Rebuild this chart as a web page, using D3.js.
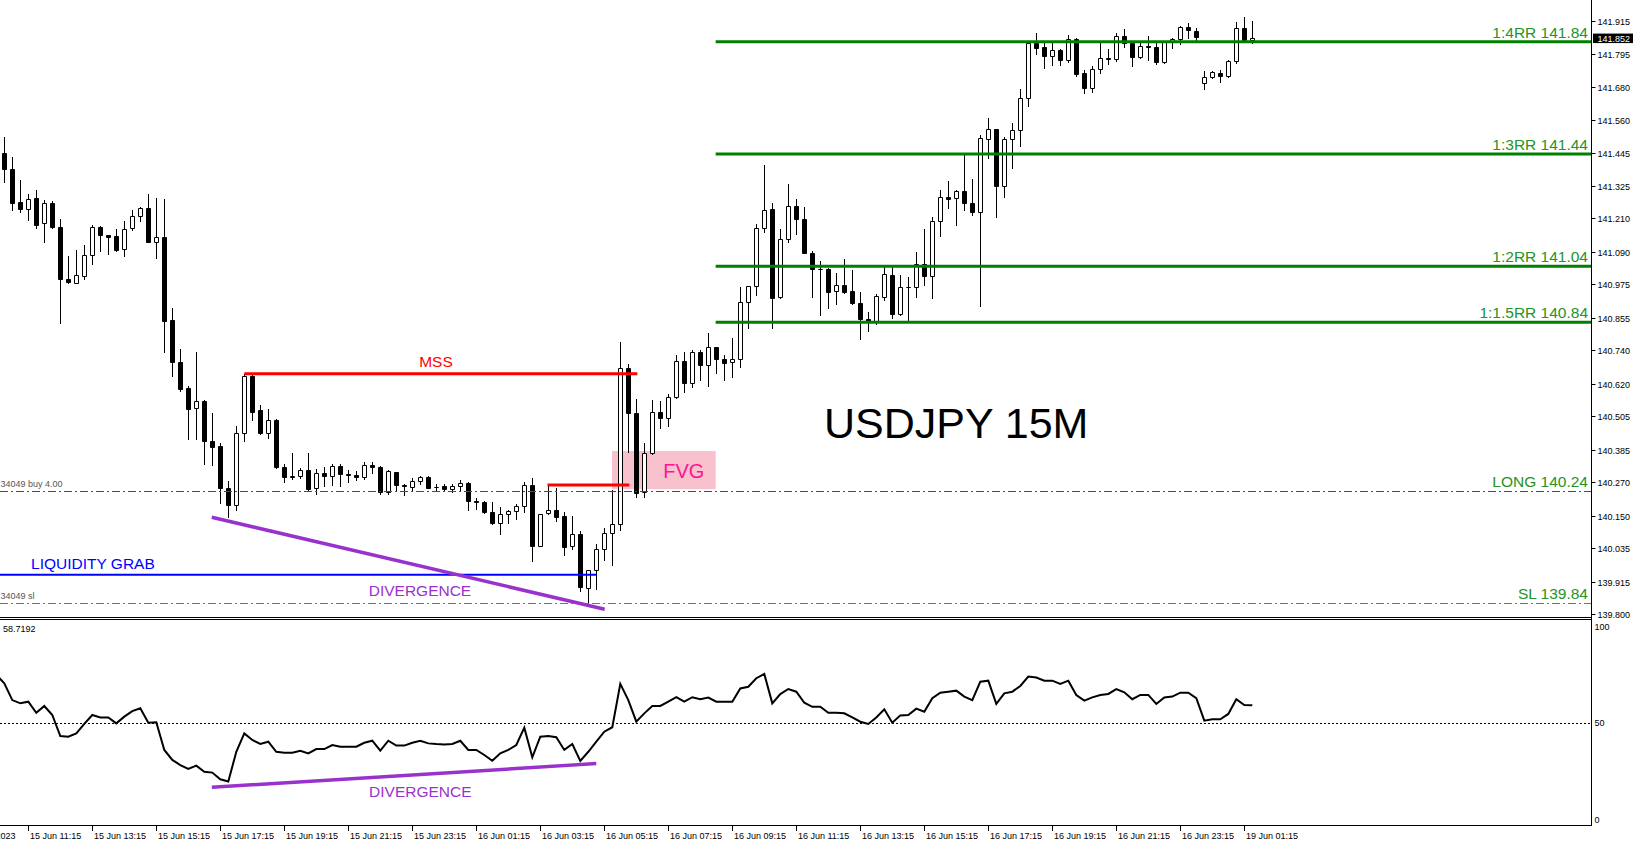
<!DOCTYPE html>
<html><head><meta charset="utf-8">
<script src="https://cdn.jsdelivr.net/npm/d3@7"></script>
<style>
body{margin:0;background:#fff;overflow:hidden}
svg{display:block}
text{font-family:"Liberation Sans",Arial,sans-serif}
</style>
</head><body>
<svg id="c" width="1635" height="845"></svg>
<script>
// ---------------- DATA ----------------
const sessions = [["15 Jun","10:15","23:45"],["16 Jun","00:00","23:45"],["19 Jun","00:00","01:30"]];

const open = [
141.40,141.442,141.386,141.268,141.244,141.282,141.193,141.264,141.181,140.993,
140.981,141.006,141.079,141.181,141.150,141.146,141.100,141.175,141.219,141.246,
141.127,141.143,140.848,140.700,140.606,140.533,140.560,140.416,140.400,140.249,
140.188,140.444,140.649,140.527,140.444,140.492,140.323,140.288,140.293,140.313,
140.248,140.302,140.292,140.329,140.298,140.294,140.290,140.330,140.323,140.236,
140.305,140.260,140.254,140.274,140.290,140.252,140.255,140.246,140.257,140.266,
140.204,140.200,140.164,140.125,140.157,140.168,140.185,140.260,140.044,140.159,
140.171,140.149,140.042,140.085,139.892,139.957,140.032,140.088,140.120,140.676,
140.516,140.234,140.373,140.519,140.500,140.575,140.702,140.622,140.735,140.687,
140.751,140.710,140.697,140.709,140.913,140.969,141.175,141.244,140.930,141.137,
141.255,141.209,141.088,141.031,141.029,140.953,140.972,140.950,140.908,140.851,
140.840,140.930,141.009,140.869,140.967,140.965,141.048,141.006,141.201,141.286,
141.283,141.308,141.266,141.234,141.495,141.529,141.327,141.493,141.526,141.639,
141.837,141.822,141.790,141.811,141.775,141.850,141.727,141.676,141.743,141.781,
141.778,141.861,141.835,141.787,141.825,141.820,141.766,141.838,141.849,141.894,
141.880,141.692,141.713,141.730,141.718,141.772,141.888,141.846];
const high = [
141.47,141.502,141.430,141.347,141.297,141.312,141.276,141.273,141.208,141.076,
141.098,141.116,141.187,141.183,141.151,141.173,141.201,141.240,141.250,141.297,
141.282,141.278,140.892,140.744,140.614,140.733,140.563,140.516,140.409,140.274,
140.470,140.656,140.656,140.545,140.530,140.495,140.335,140.374,140.319,140.374,
140.317,140.325,140.334,140.334,140.313,140.311,140.343,140.343,140.328,140.313,
140.307,140.262,140.284,140.293,140.292,140.262,140.263,140.263,140.278,140.272,
140.212,140.204,140.200,140.183,140.171,140.192,140.270,140.284,140.157,140.260,
140.248,140.165,140.149,140.096,139.957,140.050,140.106,140.242,140.770,140.690,
140.565,140.409,140.563,140.560,140.584,140.723,140.734,140.741,140.740,140.801,
140.752,140.725,140.783,140.965,140.970,141.189,141.401,141.266,141.172,141.333,
141.278,141.250,141.094,141.060,141.035,141.015,141.066,141.026,140.948,140.876,
140.941,141.037,141.038,141.009,141.003,141.092,141.173,141.214,141.312,141.344,
141.312,141.439,141.351,141.508,141.567,141.529,141.502,141.549,141.671,141.840,
141.872,141.838,141.843,141.813,141.864,141.855,141.739,141.754,141.838,141.813,
141.870,141.885,141.840,141.835,141.861,141.835,141.840,141.852,141.896,141.906,
141.888,141.736,141.736,141.739,141.775,141.909,141.927,141.915];
const low = [
141.38,141.341,141.240,141.234,141.205,141.175,141.127,141.175,140.839,140.979,
140.979,140.993,141.048,141.095,141.082,141.095,141.077,141.169,141.202,141.125,
141.070,140.735,140.649,140.596,140.423,140.424,140.334,140.331,140.195,140.145,
140.171,140.418,140.492,140.440,140.426,140.319,140.272,140.282,140.284,140.240,
140.226,140.256,140.260,140.258,140.272,140.279,140.282,140.303,140.228,140.226,
140.237,140.223,140.242,140.264,140.248,140.240,140.239,140.234,140.242,140.171,
140.174,140.161,140.121,140.084,140.123,140.139,140.165,139.990,140.042,140.157,
140.133,140.010,140.031,139.883,139.844,139.888,139.993,139.975,140.100,140.379,
140.216,140.218,140.370,140.462,140.471,140.569,140.590,140.610,140.634,140.613,
140.660,140.634,140.646,140.679,140.819,140.937,141.163,140.819,140.928,141.127,
141.154,141.086,140.931,140.866,140.892,140.905,140.945,140.905,140.780,140.810,
140.834,140.918,140.854,140.866,140.848,140.931,140.973,140.926,141.149,141.246,
141.187,141.240,141.222,140.898,141.427,141.216,141.288,141.391,141.470,141.611,
141.797,141.748,141.757,141.757,141.766,141.718,141.659,141.662,141.730,141.760,
141.773,141.822,141.755,141.783,141.775,141.760,141.764,141.819,141.832,141.852,
141.840,141.672,141.711,141.698,141.713,141.763,141.840,141.835];
const close = [
141.44,141.386,141.266,141.244,141.280,141.187,141.264,141.181,140.993,140.983,
141.008,141.080,141.181,141.150,141.145,141.098,141.172,141.220,141.246,141.127,
141.145,140.846,140.699,140.603,140.530,140.559,140.418,140.397,140.249,140.188,
140.444,140.649,140.521,140.444,140.492,140.323,140.287,140.292,140.313,140.245,
140.302,140.292,140.329,140.298,140.294,140.290,140.330,140.323,140.236,140.309,
140.260,140.255,140.274,140.290,140.250,140.254,140.245,140.257,140.266,140.204,
140.198,140.164,140.123,140.157,140.168,140.185,140.260,140.044,140.157,140.171,
140.147,140.038,140.085,139.895,139.957,140.032,140.088,140.120,140.676,140.516,
140.231,140.373,140.519,140.500,140.575,140.702,140.622,140.735,140.687,140.751,
140.710,140.694,140.709,140.913,140.969,141.175,141.240,140.928,141.137,141.255,
141.209,141.088,141.029,141.029,140.949,140.972,140.949,140.908,140.851,140.840,
140.934,141.012,140.869,140.967,140.965,141.048,141.006,141.201,141.286,141.281,
141.308,141.266,141.234,141.498,141.529,141.326,141.493,141.526,141.639,141.837,
141.819,141.790,141.811,141.775,141.850,141.725,141.676,141.743,141.781,141.778,
141.861,141.835,141.787,141.825,141.820,141.766,141.838,141.849,141.892,141.882,
141.858,141.713,141.732,141.718,141.772,141.888,141.846,141.852];
const rsi = [
73.6,69.5,61.3,59.7,60.5,55.1,58.4,54.0,43.7,43.4,
45.0,49.6,54.0,52.8,52.8,49.9,53.2,55.9,57.3,50.2,
50.4,36.9,32.0,29.5,27.6,29.2,26.2,25.8,22.5,21.4,
36.0,45.0,41.8,39.8,40.9,36.0,35.5,35.5,36.5,35.2,
37.3,37.3,39.3,38.5,38.5,38.5,40.4,41.4,36.5,41.4,
39.0,39.0,40.4,41.4,40.1,39.8,39.6,39.8,41.4,36.9,
36.9,34.4,31.6,35.2,36.9,39.3,47.8,33.3,43.4,43.7,
43.1,36.9,39.8,31.5,36.0,40.9,45.8,48.0,69.2,61.3,
50.7,54.8,58.4,58.4,60.5,62.7,60.5,62.7,61.7,62.5,
60.5,60.5,60.5,67.0,67.8,72.0,74.1,59.7,64.2,66.7,
65.4,60.0,58.0,58.0,55.1,55.1,54.8,52.8,50.7,49.6,
52.8,56.8,50.2,53.8,54.0,57.1,55.6,62.2,64.9,65.4,
65.9,63.0,61.3,70.3,70.8,59.4,64.6,65.4,68.2,72.8,
72.3,70.8,70.8,69.2,70.8,63.8,61.0,62.6,63.8,64.3,
66.7,65.1,61.7,63.8,63.8,59.4,62.6,63.0,64.9,64.9,
62.2,51.2,51.9,51.9,54.5,61.7,58.9,58.72];

const priceTicks = ["141.915","141.795","141.680","141.560","141.445","141.325","141.210","141.090","140.975","140.855","140.740","140.620","140.505","140.385","140.270","140.150","140.035","139.915","139.800"];
const timeTickBars = ["15 Jun 09:15","15 Jun 11:15","15 Jun 13:15","15 Jun 15:15","15 Jun 17:15","15 Jun 19:15","15 Jun 21:15","15 Jun 23:15","16 Jun 01:15","16 Jun 03:15","16 Jun 05:15","16 Jun 07:15","16 Jun 09:15","16 Jun 11:15","16 Jun 13:15","16 Jun 15:15","16 Jun 17:15","16 Jun 19:15","16 Jun 21:15","16 Jun 23:15","19 Jun 01:15"];
const timeTickLabels = ["15 Jun 2023","15 Jun 11:15","15 Jun 13:15","15 Jun 15:15","15 Jun 17:15","15 Jun 19:15","15 Jun 21:15","15 Jun 23:15","16 Jun 01:15","16 Jun 03:15","16 Jun 05:15","16 Jun 07:15","16 Jun 09:15","16 Jun 11:15","16 Jun 13:15","16 Jun 15:15","16 Jun 17:15","16 Jun 19:15","16 Jun 21:15","16 Jun 23:15","19 Jun 01:15"];
const rsiTicks = [100,50,0];
const rsiLevel = 50;
const lastPrice = 141.852;
const rsiLast = "58.7192";

const rrNames = ["1:4RR 141.84","1:3RR 141.44","1:2RR 141.04","1:1.5RR 140.84"];
const rrPrices = [141.84,141.44,141.04,140.84];
const longName = "LONG 140.24", longPrice = 140.24;
const slName = "SL 139.84", slPrice = 139.84;
const mssPrice = 140.656, mss2Price = 140.26, liqPrice = 139.94;
const fvgTop = 140.381, fvgBottom = 140.245;
const divPricePts = [[26.93,140.145],[76.05,139.817]];
const divRsiPts = [[26.94,18.6],[75.0,30.2]];
const tradeTexts = ["34049 buy 4.00","34049 sl"];

// ---------------- BUILD ----------------
const times = [];
sessions.forEach(([d,s,e])=>{
  let [h,m]=s.split(":").map(Number); const [eh,em]=e.split(":").map(Number);
  while(h*60+m <= eh*60+em){
    times.push(d+" "+String(h).padStart(2,"0")+":"+String(m).padStart(2,"0"));
    m+=15; if(m>=60){m-=60;h++;}
  }
});
const bars = times.map((t,i)=>({t,i,o:open[i],h:high[i],l:low[i],c:close[i],r:rsi[i]}));
function barIndex(t){
  const k=times.indexOf(t); if(k>=0) return k;
  const mins=s=>{const [hh,mm]=s.split(" ")[2].split(":").map(Number);return hh*60+mm;};
  return (mins(t)-mins(times[0]))/15;
}

const axisX = 1591.5;
const svg = d3.select("#c");
const x = d3.scaleLinear().domain([0,1]).range([-3.7,4.3]);
const y = d3.scaleLinear().domain([139.8,141.915]).range([614,20.7]);
const yr = d3.scaleLinear().domain([0,100]).range([825.3,621]);

const defs = svg.append("defs");
defs.append("clipPath").attr("id","cm").append("rect").attr("x",0).attr("y",0).attr("width",axisX).attr("height",617);
defs.append("clipPath").attr("id","cr").append("rect").attr("x",0).attr("y",620).attr("width",axisX).attr("height",205);

svg.append("rect").attr("width",1635).attr("height",845).attr("fill","#fff");

const gm = svg.append("g").attr("clip-path","url(#cm)");
// FVG rect (background)
gm.append("rect").attr("x",x(76.96)).attr("y",y(fvgTop)).attr("width",x(89.92)-x(76.96)).attr("height",y(fvgBottom)-y(fvgTop)).attr("fill","#f7c1cd");

// candles
const gc = gm.append("g");
bars.forEach(b=>{
  const cx=Math.round(x(b.i))+0.5;
  gc.append("line").attr("x1",cx).attr("x2",cx).attr("y1",Math.round(y(b.h))).attr("y2",Math.round(y(b.l))+1).attr("stroke","#000").attr("stroke-width",1);
  const yt=Math.round(y(Math.max(b.o,b.c)))+0.5, yb=Math.round(y(Math.min(b.o,b.c)))+0.5;
  gc.append("path").attr("d",`M${cx-2},${yt}H${cx+2}V${yb}H${cx-2}Z`).attr("fill",b.c>=b.o?"#fff":"#000").attr("stroke","#000").attr("stroke-width",1);
});

// trade levels
gm.append("line").attr("x1",0).attr("x2",axisX).attr("y1",Math.round(y(longPrice))+0.5).attr("y2",Math.round(y(longPrice))+0.5).attr("stroke","#008000").attr("stroke-dasharray","8,3,2,3");
gm.append("line").attr("x1",0).attr("x2",axisX).attr("y1",Math.round(y(slPrice))+0.5).attr("y2",Math.round(y(slPrice))+0.5).attr("stroke","#ff4500").attr("stroke-dasharray","8,3,2,3");

// RR lines
rrPrices.forEach((p,i)=>{
  gm.append("line").attr("x1",x(89.92)).attr("x2",axisX).attr("y1",y(p)).attr("y2",y(p)).attr("stroke","#008000").attr("stroke-width",3);
  gm.append("text").attr("x",1588).attr("y",y(p)-4).attr("text-anchor","end").attr("font-size",15.5).attr("fill","#259425").text(rrNames[i]);
});
gm.append("text").attr("x",1588).attr("y",y(longPrice)-4).attr("text-anchor","end").attr("font-size",15.5).attr("fill","#259425").text(longName);
gm.append("text").attr("x",1588).attr("y",y(slPrice)-4).attr("text-anchor","end").attr("font-size",15.5).attr("fill","#259425").text(slName);

// MSS lines
gm.append("line").attr("x1",x(31.0)).attr("x2",x(80.13)).attr("y1",y(mssPrice)).attr("y2",y(mssPrice)).attr("stroke","#ff0000").attr("stroke-width",3);
gm.append("line").attr("x1",x(68.9)).attr("x2",x(79.13)).attr("y1",y(mss2Price)).attr("y2",y(mss2Price)).attr("stroke","#ff0000").attr("stroke-width",3);
gm.append("text").attr("x",x(54.96)).attr("y",y(140.68)).attr("text-anchor","middle").attr("font-size",15.5).attr("fill","#ff0000").text("MSS");

// liquidity
gm.append("line").attr("x1",0).attr("x2",x(75.05)).attr("y1",y(liqPrice)).attr("y2",y(liqPrice)).attr("stroke","#0000ff").attr("stroke-width",2);
gm.append("text").attr("x",x(4.34)).attr("y",y(139.962)).attr("font-size",15.5).attr("fill","#0000ff").text("LIQUIDITY GRAB");

// divergence (price)
gm.append("line").attr("x1",x(divPricePts[0][0])).attr("y1",y(divPricePts[0][1])).attr("x2",x(divPricePts[1][0])).attr("y2",y(divPricePts[1][1])).attr("stroke","#9932cc").attr("stroke-width",3.5);
gm.append("text").attr("x",x(52.96)).attr("y",y(139.865)).attr("text-anchor","middle").attr("font-size",15.5).attr("fill","#9932cc").text("DIVERGENCE");

// FVG text
gm.append("text").attr("x",x(85.93)).attr("y",y(140.286)).attr("text-anchor","middle").attr("font-size",20).attr("fill","#ff1493").text("FVG");

// title
gm.append("text").attr("x",x(103.46)).attr("y",y(140.428)).attr("font-size",43).attr("fill","#000").text("USDJPY 15M");

// trade labels at left
gm.append("text").attr("x",0.5).attr("y",y(longPrice)-3.5).attr("font-size",9).attr("fill","#555").text(tradeTexts[0]);
gm.append("text").attr("x",0.5).attr("y",y(slPrice)-3.5).attr("font-size",9).attr("fill","#555").text(tradeTexts[1]);

// ---------- RSI panel ----------
const gr = svg.append("g").attr("clip-path","url(#cr)");
gr.append("line").attr("x1",0).attr("x2",axisX).attr("y1",Math.round(yr(rsiLevel))+0.5).attr("y2",Math.round(yr(rsiLevel))+0.5).attr("stroke","#000").attr("stroke-dasharray","2,2");
gr.append("path").datum(bars).attr("d",d3.line().x(d=>x(d.i)).y(d=>yr(d.r))).attr("fill","none").attr("stroke","#000").attr("stroke-width",2);
gr.append("line").attr("x1",x(divRsiPts[0][0])).attr("y1",yr(divRsiPts[0][1])).attr("x2",x(divRsiPts[1][0])).attr("y2",yr(divRsiPts[1][1])).attr("stroke","#9932cc").attr("stroke-width",3.5);
gr.append("text").attr("x",x(53.0)).attr("y",yr(13.7)).attr("text-anchor","middle").attr("font-size",15.5).attr("fill","#9932cc").text("DIVERGENCE");
gr.append("text").attr("x",3).attr("y",632).attr("font-size",9).attr("fill","#000").text(rsiLast);

// ---------- frames ----------
svg.append("line").attr("x1",axisX).attr("x2",axisX).attr("y1",0).attr("y2",826).attr("stroke","#000");
svg.append("line").attr("x1",0).attr("x2",axisX).attr("y1",617.5).attr("y2",617.5).attr("stroke","#000");
svg.append("line").attr("x1",0).attr("x2",axisX).attr("y1",619.5).attr("y2",619.5).attr("stroke","#000");
svg.append("line").attr("x1",0).attr("x2",axisX).attr("y1",825.5).attr("y2",825.5).attr("stroke","#000");

// price axis
priceTicks.forEach(t=>{
  const yy=Math.round(y(+t))+0.5;
  svg.append("line").attr("x1",axisX).attr("x2",axisX+4).attr("y1",yy).attr("y2",yy).attr("stroke","#000");
  svg.append("text").attr("x",1597.5).attr("y",yy+3.2).attr("font-size",9).attr("fill","#000").text(t);
});
// last price marker
const ly=y(lastPrice);
svg.append("rect").attr("x",1593).attr("y",ly-4.8).attr("width",40).attr("height",9.5).attr("fill","#000");
svg.append("text").attr("x",1597.5).attr("y",ly+3.2).attr("font-size",9).attr("fill","#fff").text(lastPrice.toFixed(3));

// rsi axis labels
rsiTicks.forEach(v=>{
  const yy = v===100? yr(v)+6 : v===0 ? yr(v)-6 : yr(v);
  svg.append("text").attr("x",1594.5).attr("y",yy+3.2).attr("font-size",9).attr("fill","#000").text(v);
});

// time axis
timeTickBars.forEach((t,i)=>{
  const xx=Math.round(x(barIndex(t)))+0.5;
  svg.append("line").attr("x1",xx).attr("x2",xx).attr("y1",826).attr("y2",831).attr("stroke","#000");
  svg.append("text").attr("x",xx+1.5).attr("y",838.5).attr("font-size",9).attr("fill","#000").text(timeTickLabels[i]);
});
</script>
</body></html>
